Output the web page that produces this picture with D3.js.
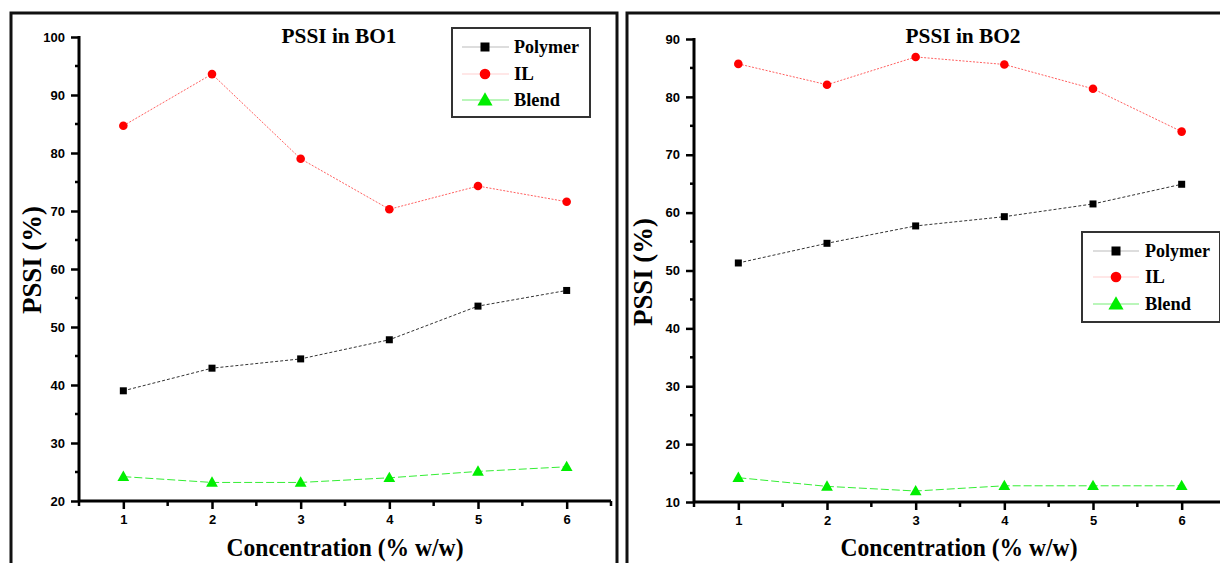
<!DOCTYPE html>
<html><head><meta charset="utf-8">
<script src="https://cdn.jsdelivr.net/npm/d3@7"></script>
<style>body{margin:0;background:#fff;}svg{display:block;}</style>
</head><body>
<svg id="c" width="1220" height="563"></svg>
<script>
const concentrations = [1, 2, 3, 4, 5, 6];
const seriesNames = ["Polymer", "IL", "Blend"];
const bo1Polymer = [39.0, 42.9, 44.5, 47.8, 53.6, 56.3];
const bo1IL = [84.7, 93.6, 79.0, 70.3, 74.3, 71.6];
const bo1Blend = [24.2, 23.2, 23.2, 24.0, 25.1, 25.9];
const bo2Polymer = [51.3, 54.7, 57.7, 59.3, 61.5, 64.9];
const bo2IL = [85.7, 82.1, 86.9, 85.6, 81.4, 74.0];
const bo2Blend = [14.2, 12.7, 11.9, 12.8, 12.8, 12.8];
const bo1YTicks = [20, 30, 40, 50, 60, 70, 80, 90, 100];
const bo2YTicks = [10, 20, 30, 40, 50, 60, 70, 80, 90];
const titles = ["PSSI in BO1", "PSSI in BO2"];
const xTitle = "Concentration (% w/w)";
const yTitle = "PSSI (%)";

const styles = {
  Polymer: {line: "#333", legendLine: "#bbb", fill: "#000", shape: "square", dash: "3,2"},
  IL: {line: "#ff6060", legendLine: "#ffd0d0", fill: "#ff0000", shape: "circle", dash: "2,1.5"},
  Blend: {line: "#33ee33", legendLine: "#77ee77", fill: "#00ee00", shape: "triangle", dash: "8,3"}
};

const svg = d3.select("#c");
const serif = "'Liberation Serif','Times New Roman',serif";
const sans = "'Liberation Sans',Arial,sans-serif";

const panels = [
  {frameX: 11, frameW: 606, axisX0: 79, axisX1: 611, yTop: 37, yBot: 501, ticks: bo1YTicks,
   data: [bo1Polymer, bo1IL, bo1Blend], title: titles[0], titleX: 339, xTitleX: 345, yTitleX: 41, yTitleY: 260,
   legend: {x: 452, y: 28, w: 138, h: 89, rows: [47, 74, 100], lx0: 462, lx1: 509, mx: 485, tx: 514, tw: [65, 20, 46]}},
  {frameX: 627, frameW: 620, axisX0: 694, axisX1: 1226, yTop: 39, yBot: 502, ticks: bo2YTicks,
   data: [bo2Polymer, bo2IL, bo2Blend], title: titles[1], titleX: 963, xTitleX: 959, yTitleX: 652, yTitleY: 272,
   legend: {x: 1082, y: 232, w: 138, h: 90, rows: [251, 277, 304], lx0: 1093, lx1: 1139, mx: 1116, tx: 1145, tw: [65, 20, 46]}}
];

function drawMarker(g, shape, x, y, fill, size) {
  if (shape === "square") {
    g.append("rect").attr("x", x - size/2).attr("y", y - size/2).attr("width", size).attr("height", size).attr("fill", fill);
  } else if (shape === "circle") {
    g.append("circle").attr("cx", x).attr("cy", y).attr("r", size/2 + 0.8).attr("fill", fill);
  } else {
    const s = size * 1.45;
    g.append("path").attr("d", `M${x},${y - s*0.6}L${x + s*0.58},${y + s*0.42}L${x - s*0.58},${y + s*0.42}Z`).attr("fill", fill);
  }
}

panels.forEach(p => {
  const g = svg.append("g");
  g.append("rect").attr("x", p.frameX).attr("y", 13).attr("width", p.frameW).attr("height", 600)
    .attr("fill", "none").attr("stroke", "#111").attr("stroke-width", 3);

  const x = d3.scaleLinear().domain([0.5, 6.5]).range([p.axisX0, p.axisX1]);
  const y = d3.scaleLinear().domain([p.ticks[0], p.ticks[p.ticks.length - 1]]).range([p.yBot, p.yTop]);

  const yAxis = d3.axisLeft(y).tickValues(p.ticks).tickSize(8).tickPadding(6).tickFormat(d3.format("d"));
  const ya = g.append("g").attr("transform", `translate(${p.axisX0},0)`).call(yAxis);
  ya.select(".domain").attr("stroke-width", 3).attr("d", `M0,${p.yTop - 1}V${p.yBot + 1}`);
  ya.selectAll(".tick line").attr("stroke-width", 2.5);
  ya.selectAll(".tick text").attr("font-family", sans).attr("font-weight", "bold").attr("font-size", 13).attr("fill", "#000");
  const yMinor = d3.range(p.ticks[0] + 5, p.ticks[p.ticks.length - 1], 10);
  g.selectAll(null).data(yMinor).enter().append("line")
    .attr("x1", p.axisX0 - 4).attr("x2", p.axisX0).attr("y1", d => y(d)).attr("y2", d => y(d))
    .attr("stroke", "#000").attr("stroke-width", 2.5);

  const xAxis = d3.axisBottom(x).tickValues(concentrations).tickSize(8).tickPadding(6).tickFormat(d3.format("d"));
  const xa = g.append("g").attr("transform", `translate(0,${p.yBot})`).call(xAxis);
  xa.select(".domain").attr("stroke-width", 3).attr("d", `M${p.axisX0 - 1},0H${p.axisX1}`);
  xa.selectAll(".tick line").attr("stroke-width", 2.5);
  xa.selectAll(".tick text").attr("font-family", sans).attr("font-weight", "bold").attr("font-size", 13).attr("fill", "#000");
  const xMinor = [0.5, 1.5, 2.5, 3.5, 4.5, 5.5, 6.5];
  g.selectAll(null).data(xMinor).enter().append("line")
    .attr("x1", d => x(d)).attr("x2", d => x(d)).attr("y1", p.yBot).attr("y2", p.yBot + 5)
    .attr("stroke", "#000").attr("stroke-width", 2.5);

  seriesNames.forEach((name, i) => {
    const st = styles[name];
    const vals = p.data[i];
    const line = d3.line().x((d, j) => x(concentrations[j])).y(d => y(d));
    g.append("path").attr("d", line(vals)).attr("fill", "none").attr("stroke", st.line)
      .attr("stroke-width", 1).attr("stroke-dasharray", st.dash);
    vals.forEach((v, j) => drawMarker(g, st.shape, x(concentrations[j]), y(v), st.fill, 7));
  });

  g.append("text").attr("x", p.titleX).attr("y", 43).attr("text-anchor", "middle")
    .attr("font-family", serif).attr("font-weight", "bold").attr("font-size", 22)
    .attr("textLength", 115).attr("lengthAdjust", "spacingAndGlyphs").text(p.title);
  g.append("text").attr("x", p.xTitleX).attr("y", 556).attr("text-anchor", "middle")
    .attr("font-family", serif).attr("font-weight", "bold").attr("font-size", 26)
    .attr("textLength", 237).attr("lengthAdjust", "spacingAndGlyphs").text(xTitle);
  g.append("text").attr("transform", `translate(${p.yTitleX},${p.yTitleY}) rotate(-90)`).attr("text-anchor", "middle")
    .attr("font-family", serif).attr("font-weight", "bold").attr("font-size", 27)
    .attr("textLength", 108).attr("lengthAdjust", "spacingAndGlyphs").text(yTitle);

  const L = p.legend;
  g.append("rect").attr("x", L.x).attr("y", L.y).attr("width", L.w).attr("height", L.h)
    .attr("fill", "#fff").attr("stroke", "#333").attr("stroke-width", 2);
  seriesNames.forEach((name, i) => {
    const st = styles[name];
    const ry = L.rows[i];
    g.append("line").attr("x1", L.lx0).attr("x2", L.lx1).attr("y1", ry).attr("y2", ry)
      .attr("stroke", st.legendLine).attr("stroke-width", 1.2);
    drawMarker(g, st.shape, L.mx, ry, st.fill, 9);
    g.append("text").attr("x", L.tx).attr("y", ry + 6)
      .attr("font-family", serif).attr("font-weight", "bold").attr("font-size", 19)
      .attr("textLength", L.tw[i]).attr("lengthAdjust", "spacingAndGlyphs").text(name);
  });
});
</script>
</body></html>
